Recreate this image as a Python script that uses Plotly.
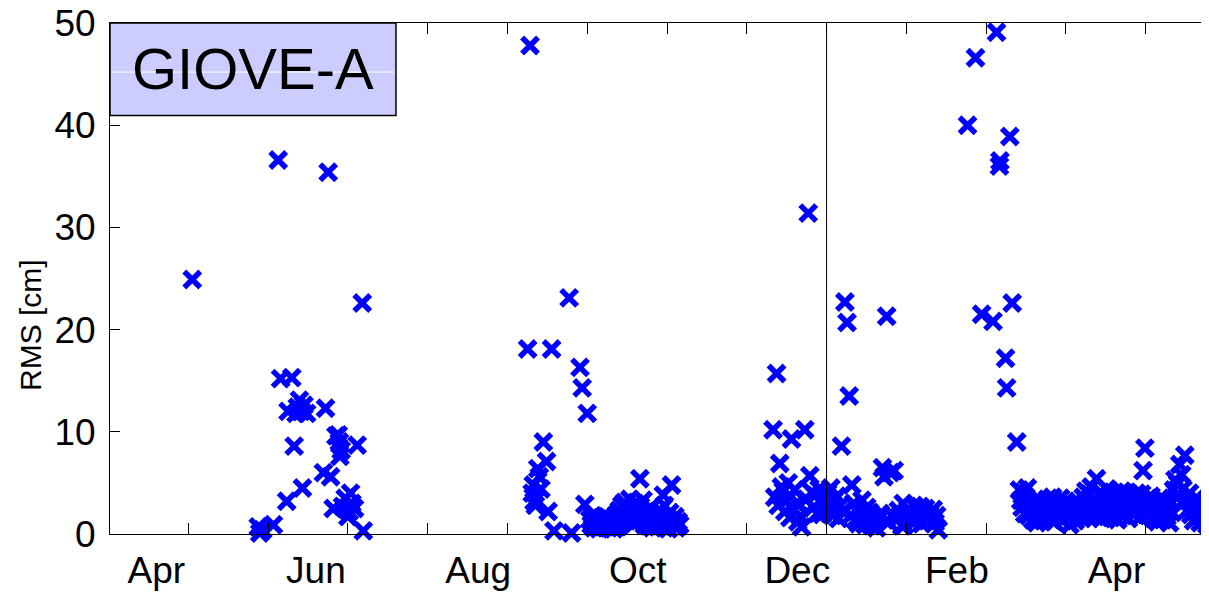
import plotly.graph_objects as go

# ---------------- data (x = day of year 2006; 365 = 1 Jan 2007) ----------------
apr_jun_x = [126.5, 151.3, 151.9, 153.0, 157.0, 158.8, 159.7, 162.0, 162.5, 163.9, 164.8,
             165.5, 166.0, 166.8, 167.5, 167.9, 168.5, 169.5, 175.8, 176.6, 177.6, 178.5,
             179.5, 180.5, 181.4, 181.8, 182.0, 182.5, 183.0, 184.0, 185.0, 185.5, 186.0,
             186.5, 187.5, 188.5, 190.4, 190.8]
apr_jun_y = [24.9, 0.7, 0.1, 0.4, 0.9, 36.6, 15.2, 3.2, 12.0, 15.3, 8.6,
             11.8, 12.4, 13.1, 12.0, 4.5, 12.6, 11.8, 6.0, 12.3, 35.4, 5.6,
             2.5, 9.6, 9.7, 9.0, 7.6, 8.2, 2.7, 3.5, 1.7, 2.2, 4.0,
             3.0, 2.5, 8.7, 22.6, 0.3]

aug_oct_x = [252.6, 253.5, 254.3, 254.7, 255.0, 255.5, 256.4, 257.0, 257.6, 258.5, 259.7,
             260.3, 261.6, 262.5, 268.2, 269.1, 272.3, 273.1, 274.1, 275.0,
             276.0, 276.5, 277.0, 277.5, 278.0, 278.5, 279.0, 279.5, 280.0, 280.5, 281.0,
             281.5, 282.0, 282.5, 283.0, 283.5, 284.0, 284.5, 285.0, 285.5, 286.0, 286.5,
             287.0, 287.5, 288.0, 288.5, 289.0, 289.5, 290.0, 290.5, 291.0, 291.5, 292.0,
             292.5, 293.0, 293.5, 294.0, 294.8, 295.0, 295.5, 296.0, 296.5, 297.0, 297.5,
             298.0, 298.5, 299.0, 299.5, 300.0, 300.5, 301.0, 301.5, 302.0, 302.5, 303.0,
             303.6, 304.0, 304.5, 305.0, 305.5, 306.0, 306.7, 307.0, 307.5, 308.0, 308.5,
             309.2, 309.8]
aug_oct_y = [18.1, 47.8, 4.0, 4.8, 3.2, 2.8, 6.4, 5.6, 4.4, 9.0, 7.1,
             2.2, 18.1, 0.3, 23.1, 0.1, 16.3, 14.3, 2.9, 11.8,
             1.4, 0.9, 1.8, 0.6, 1.2, 0.8, 1.5, 0.5, 1.1, 1.6, 0.7,
             1.3, 0.9, 1.7, 0.6, 1.2, 0.8, 1.4, 0.5, 1.0, 1.9, 0.7,
             2.3, 1.1, 2.8, 1.5, 3.1, 2.0, 1.3, 2.6, 3.4, 1.8, 2.4,
             1.0, 3.0, 2.1, 1.4, 5.4, 2.7, 1.6, 3.3, 0.9, 2.2, 1.5,
             0.8, 2.5, 1.2, 0.6, 1.8, 1.0, 2.0, 0.7, 1.4, 2.3, 1.1,
             3.8, 2.8, 0.9, 1.6, 0.5, 2.1, 4.8, 1.3, 0.8, 1.7, 0.6,
             1.2, 0.9]

dec_jan_x = [344.9, 345.5, 346.2, 346.8, 347.4, 348.0, 348.7, 349.3, 349.8, 350.6, 351.2,
             351.8, 352.4, 353.0, 353.6, 354.2, 354.8, 355.2, 355.6, 356.8, 357.4, 358.1,
             358.7, 359.4, 360.0, 360.8, 361.5, 362.2, 362.8, 363.4, 364.0, 364.6, 365.4,
             366.0, 366.6, 367.2, 367.8, 368.4, 368.9, 369.5, 370.0, 370.6, 371.2, 371.9,
             372.7, 373.5, 374.0, 374.5, 375.2, 375.8, 376.4, 377.0, 377.6, 378.3, 378.9,
             379.5, 380.1, 380.7, 381.3, 382.0, 382.6, 383.2, 383.8, 384.5, 385.2, 386.0,
             386.6, 387.6, 388.2, 389.0, 389.8, 390.4, 391.3, 392.0, 392.7, 393.3, 393.8,
             394.4, 395.0, 395.6, 396.3, 397.0, 397.7, 398.3, 398.8, 399.5, 400.1, 400.8,
             401.5, 402.2, 402.9, 403.8, 404.5, 405.1, 405.8, 406.4, 407.0]
dec_jan_y = [10.2, 3.6, 15.7, 2.8, 6.9, 4.6, 4.2, 2.2, 3.2, 5.0, 1.6,
             9.3, 2.5, 4.3, 3.0, 1.2, 2.9, 1.7, 0.7, 10.2, 3.4, 31.4,
             5.7, 4.1, 2.6, 3.8, 2.0, 4.4, 3.1, 1.9, 3.5, 2.4, 4.0,
             2.9, 4.5, 1.8, 3.3, 2.5, 3.7, 1.5, 2.7, 8.6, 2.2, 22.7,
             20.7, 13.5, 1.8, 4.8, 3.0, 1.4, 2.4, 1.0, 2.0, 3.3, 1.6,
             0.9, 2.6, 1.3, 2.1, 0.8, 1.7, 1.1, 0.6, 1.4, 2.0, 6.5,
             5.6, 21.3, 1.2, 6.0, 1.9, 6.2, 1.4, 2.3, 1.8, 0.8, 3.0,
             0.9, 1.6, 2.4, 2.0, 1.2, 2.8, 1.5, 1.4, 2.2, 2.7, 1.0,
             1.9, 2.5, 1.3, 2.0, 1.6, 2.4, 1.1, 1.8, 0.4]

feb_x = [418.0, 421.0, 423.3, 427.6, 428.9, 430.0, 430.2, 432.3, 432.7, 433.9, 434.8, 436.5]
feb_y = [40.0, 46.6, 21.5, 20.8, 49.1, 36.0, 36.5, 17.2, 14.3, 38.9, 22.6, 9.0]

mar_may_x = [437.5, 438.0, 438.5, 439.0, 439.5, 440.0, 440.5, 441.0, 441.5, 442.0, 442.5,
             443.0, 443.5, 444.0, 444.5, 445.0, 445.5, 446.0, 446.5, 447.0, 447.5, 448.0,
             448.5, 449.0, 449.5, 450.0, 450.5, 451.0, 451.5, 452.0, 452.5, 453.0, 453.5,
             454.0, 454.5, 455.0, 455.5, 456.0, 456.5, 457.0, 457.5, 458.0, 458.5, 459.0,
             459.5, 460.0, 460.5, 461.0, 461.5, 462.0, 462.5, 463.0, 463.5, 464.0, 464.5,
             465.0, 465.5, 466.0, 466.5, 467.0, 467.5, 468.0, 468.5, 469.0, 469.5, 470.0,
             470.5, 471.0, 471.5, 472.0, 472.5, 473.0, 473.5, 474.0, 474.5, 475.0, 475.5,
             476.0, 476.5, 477.0, 477.5, 478.0, 478.5, 479.0, 479.5, 480.0, 480.5, 481.0,
             481.5, 482.0, 482.5, 483.0, 483.5, 484.0, 484.7, 485.0, 485.5, 486.0, 486.5,
             487.0, 487.5, 488.0, 488.5, 489.0, 489.5, 490.0, 490.5, 491.0, 491.5, 492.0,
             492.5, 493.0, 493.5, 494.0, 494.5, 495.0, 495.5, 496.0, 496.5, 497.0, 497.8,
             498.5, 499.0, 499.7, 500.5, 501.0, 501.5, 502.0, 502.5, 503.0, 503.5, 504.0,
             504.5, 505.0, 505.5, 506.0, 506.5, 507.0, 507.5, 508.0, 508.5]
mar_may_y = [4.3, 3.3, 2.6, 4.1, 2.0, 3.6, 4.5, 1.8, 3.0, 2.4, 1.4,
             2.2, 3.3, 1.1, 2.8, 1.6, 2.0, 3.1, 1.3, 2.5, 1.8, 3.4,
             2.1, 1.5, 2.9, 3.6, 1.2, 2.4, 3.0, 1.7, 2.6, 3.5, 2.0,
             1.4, 2.7, 3.2, 1.8, 2.3, 0.9, 2.9, 1.6, 2.2, 1.3, 2.6,
             1.9, 3.0, 2.4, 1.5, 3.6, 2.1, 4.2, 2.8, 1.6, 3.9, 4.6,
             2.5, 3.3, 1.7, 5.4, 3.0, 2.2, 4.1, 1.5, 2.8, 3.7, 1.9,
             4.4, 2.6, 3.4, 1.6, 2.9, 4.0, 2.2, 3.1, 1.4, 3.8, 2.5,
             4.2, 1.8, 3.3, 2.7, 4.1, 1.5, 3.0, 2.3, 3.6, 1.9, 2.8,
             4.0, 2.4, 3.3, 1.7, 3.9, 6.2, 8.4, 2.6, 3.4, 1.8, 2.9,
             3.7, 2.2, 1.5, 3.1, 2.5, 1.2, 2.8, 3.5, 2.0, 1.4, 2.6,
             3.2, 1.7, 2.3, 1.1, 3.0, 2.1, 4.3, 5.3, 3.6, 4.9, 6.8,
             5.8, 4.4, 7.7, 3.3, 2.4, 4.0, 1.9, 2.9, 1.3, 3.4, 2.2,
             1.6, 2.7, 1.1, 2.0, 3.0, 1.5, 2.4, 0.9, 1.8]

rms_x = apr_jun_x + aug_oct_x + dec_jan_x + feb_x + mar_may_x
rms_y = apr_jun_y + aug_oct_y + dec_jan_y + feb_y + mar_may_y

month_tick_days = [125, 155, 185, 215, 245, 275, 305, 335, 365, 395, 425, 455, 485]
month_label_days = [113, 173, 234, 294, 354, 414, 474]
month_labels = ["Apr", "Jun", "Aug", "Oct", "Dec", "Feb", "Apr"]
y_ticks = [0, 10, 20, 30, 40, 50]
year_boundary = 365
x_range = [95.56, 508.8]
y_range = [0, 50]
satellite = "GIOVE-A"

FONT = "Liberation Sans, Arial, Helvetica, sans-serif"

fig = go.Figure()
fig.add_trace(go.Scatter(
    x=rms_x, y=rms_y, mode="markers", cliponaxis=False,
    marker=dict(symbol="x-thin", size=16, color="#0000FF",
                line=dict(color="#0000FF", width=5.5)),
    showlegend=False, hoverinfo="x+y"))

# year boundary line
fig.add_shape(type="line", xref="x", yref="paper", x0=year_boundary, x1=year_boundary,
              y0=0, y1=1, line=dict(color="black", width=1))

# label box
fig.add_shape(type="rect", xref="paper", yref="paper", x0=0, x1=0.2602, y0=0.8192, y1=1,
              fillcolor="#CCCCFF", line=dict(color="black", width=1.5))
fig.add_shape(type="line", xref="paper", yref="paper", x0=0.0015, x1=0.2585, y0=0.904, y1=0.904,
              line=dict(color="white", width=1))
fig.add_annotation(xref="paper", yref="paper", x=0.1302, y=0.9103, text=satellite,
                   showarrow=False, xanchor="center", yanchor="middle",
                   font=dict(family=FONT, size=58, color="black"))

fig.add_annotation(xref="paper", yref="paper", x=-0.0728, y=0.409, text="RMS [cm]",
                   textangle=-90, showarrow=False, xanchor="center", yanchor="middle",
                   font=dict(family=FONT, size=30, color="black"))

# the page body adds an 8px offset, so the figure is 8px smaller than the window
fig.update_layout(
    template="none",
    width=1201, height=591,
    margin=dict(l=102, r=0, t=15.4, b=65, pad=0, autoexpand=False),
    paper_bgcolor="white", plot_bgcolor="white",
    font=dict(family=FONT, color="black"),
    xaxis=dict(range=x_range, tickvals=month_label_days, ticktext=month_labels,
               ticks="", showgrid=False, zeroline=False, automargin=False,
               showline=True, linecolor="black", linewidth=1, mirror="ticks",
               tickfont=dict(family=FONT, size=37, color="black"),
               ticklabelstandoff=4, ticklabeloverflow="allow",
               minor=dict(tickvals=month_tick_days, ticks="inside", ticklen=11,
                          tickcolor="black", tickwidth=1, showgrid=False)),
    yaxis=dict(range=y_range, tickvals=y_ticks, ticks="inside", ticklen=10,
               tickcolor="black", tickwidth=1, showgrid=False, zeroline=False,
               automargin=False, ticklabeloverflow="allow",
               showline=True, linecolor="black", linewidth=1, mirror=False,
               tickfont=dict(family=FONT, size=37, color="black"),
               ticklabelstandoff=6),
)

fig.write_html("out.html")
